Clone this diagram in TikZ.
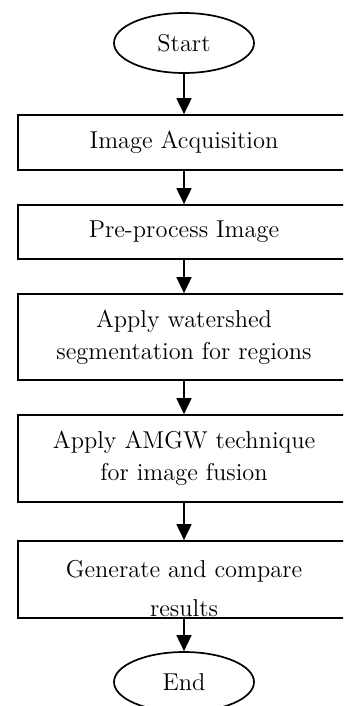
\documentclass[tikz,border=0pt]{standalone}
\usepackage{tikz}
\usetikzlibrary{arrows.meta,positioning,shapes.geometric}
\tikzset{
  fterm/.style={draw=black,ellipse,line width=0.85pt,minimum width=70pt,minimum height=30pt,inner sep=0pt},
  fproc/.style={draw=black,line width=0.85pt,minimum width=166.3pt,align=center,inner sep=0pt},
  farr/.style={-{Triangle[length=8pt,width=7.5pt]},line width=0.85pt,draw=black}
}
\begin{document}
\begin{tikzpicture}[x=0.5pt,y=-0.5pt,font=\fontsize{12.2}{16}\selectfont]
  \path[use as bounding box,clip] (0,0) rectangle (343,706);
  \node[fterm] (start) at (184,43) {Start};
  \node[fproc,minimum height=27.5pt] (acq) at (184,142.5) {Image Acquisition};
  \node[fproc,minimum height=27pt] (pre) at (184,232) {Pre-process Image};
  \node[fproc,minimum height=43pt] (seg) at (184,337) {Apply watershed\\segmentation for regions};
  \node[fproc,minimum height=43.5pt] (fuse) at (184,458.5) {Apply AMGW technique\\for image fusion};
  \node[fproc,minimum height=38.5pt] (gen) at (184,579.5) {};
  \node[align=center,anchor=north,inner sep=0pt] (gentxt) at (184,560) {Generate and compare\\[3.5pt]results};
  \node[fterm] (stop) at (184,682) {End};
  \draw[farr] (start) -- (acq);
  \draw[farr] (acq) -- (pre); \draw[farr] (pre) -- (seg); \draw[farr] (seg) -- (fuse);
  \draw[farr] (fuse) -- (gen); \draw[farr] (gen) -- (stop);
\end{tikzpicture}
\end{document}
